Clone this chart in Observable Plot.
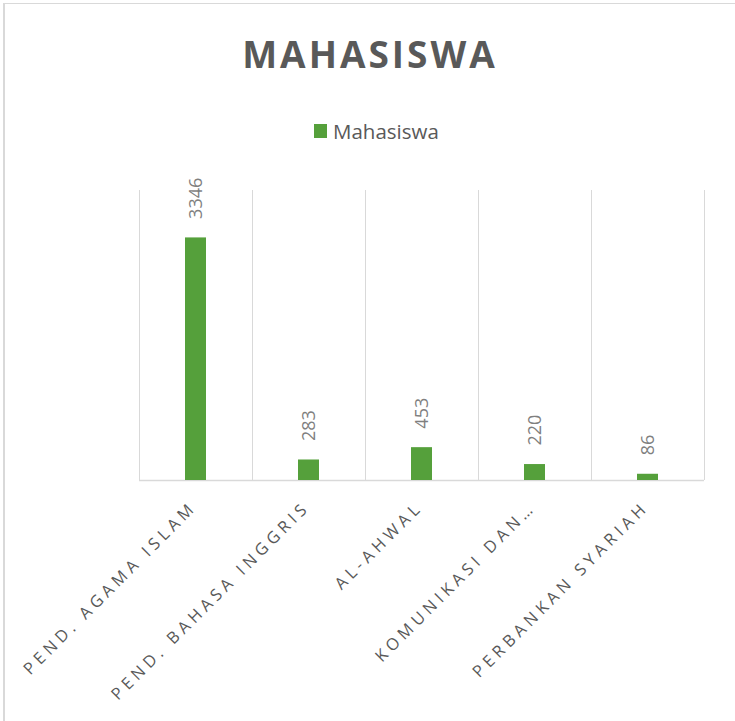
<!DOCTYPE html>
<html>
<head>
<meta charset="utf-8">
<script src="https://cdn.jsdelivr.net/npm/d3@7"></script>
<script src="https://cdn.jsdelivr.net/npm/@observablehq/plot@0.6"></script>
<style>
  body { margin: 0; background: #fff; }
  #frame { position: relative; width: 735px; height: 721px; overflow: hidden; background: #fff; font-family: "Open Sans", sans-serif; }
  #border { position: absolute; left: 3px; top: 3px; width: 900px; height: 900px; border-top: 1px solid #d9d9d9; border-left: 2px solid #d9d9d9; }
  #title { position: absolute; left: 0; top: 35px; width: 740px; text-align: center; font-weight: bold; font-size: 37px; line-height: 37px; letter-spacing: 3px; color: #595959; }
  #legend { position: absolute; left: 314px; top: 118px; height: 26px; display: flex; align-items: center; font-size: 20.5px; color: #595959; }
  #legend .sw { width: 13px; height: 14px; margin-right: 6px; }
  #chart { position: absolute; left: 0; top: 150px; }
</style>
</head>
<body>
<div id="frame">
  <div id="border"></div>
  <div id="title">MAHASISWA</div>
  <div id="legend"><span class="sw"></span><span id="legend-text"></span></div>
  <div id="chart"></div>
</div>
<script>
const categories = ["PEND. AGAMA ISLAM", "PEND. BAHASA INGGRIS", "AL-AHWAL", "KOMUNIKASI DAN…", "PERBANKAN SYARIAH"];
const values = [3346, 283, 453, 220, 86];
const seriesName = "Mahasiswa";
const barColor = "#55a03b";

const data = categories.map((c, i) => ({category: c, value: values[i]}));

document.querySelector("#legend .sw").style.background = barColor;
document.getElementById("legend-text").textContent = seriesName;

const chart = Plot.plot({
  width: 735,
  height: 571,
  marginTop: 40,
  marginBottom: 241,
  marginLeft: 139,
  marginRight: 31,
  style: {fontFamily: "Open Sans", background: "transparent"},
  x: {type: "band", domain: categories, padding: 0, axis: null},
  y: {domain: [0, 4000], axis: null},
  marks: [
    Plot.ruleX(categories, {x: d => d, dx: -56.5, y1: 0, y2: 4000, stroke: "#d9d9d9"}),
    Plot.ruleX(categories.slice(-1), {x: d => d, dx: 56.5, y1: 0, y2: 4000, stroke: "#d9d9d9"}),
    Plot.ruleY([0], {stroke: "#d9d9d9", strokeWidth: 1.5}),
    Plot.barY(data, {x: "category", y: "value", fill: barColor, insetLeft: 46, insetRight: 46}),
    Plot.text(data, {x: "category", y: "value", text: d => String(d.value), rotate: -90, textAnchor: "start", dy: -19, fontSize: 18, fill: "#7f7f7f"}),
    Plot.text(categories, {x: d => d, y: 0, text: d => d, rotate: -45, textAnchor: "end", dy: 24, dx: -2, fontSize: 16.5, fill: "#595959"})
  ]
});
d3.select(chart).selectAll("text")
  .filter(function() { return categories.includes(this.textContent); })
  .style("letter-spacing", "4.4px");
document.getElementById("chart").appendChild(chart);
</script>
</body>
</html>
